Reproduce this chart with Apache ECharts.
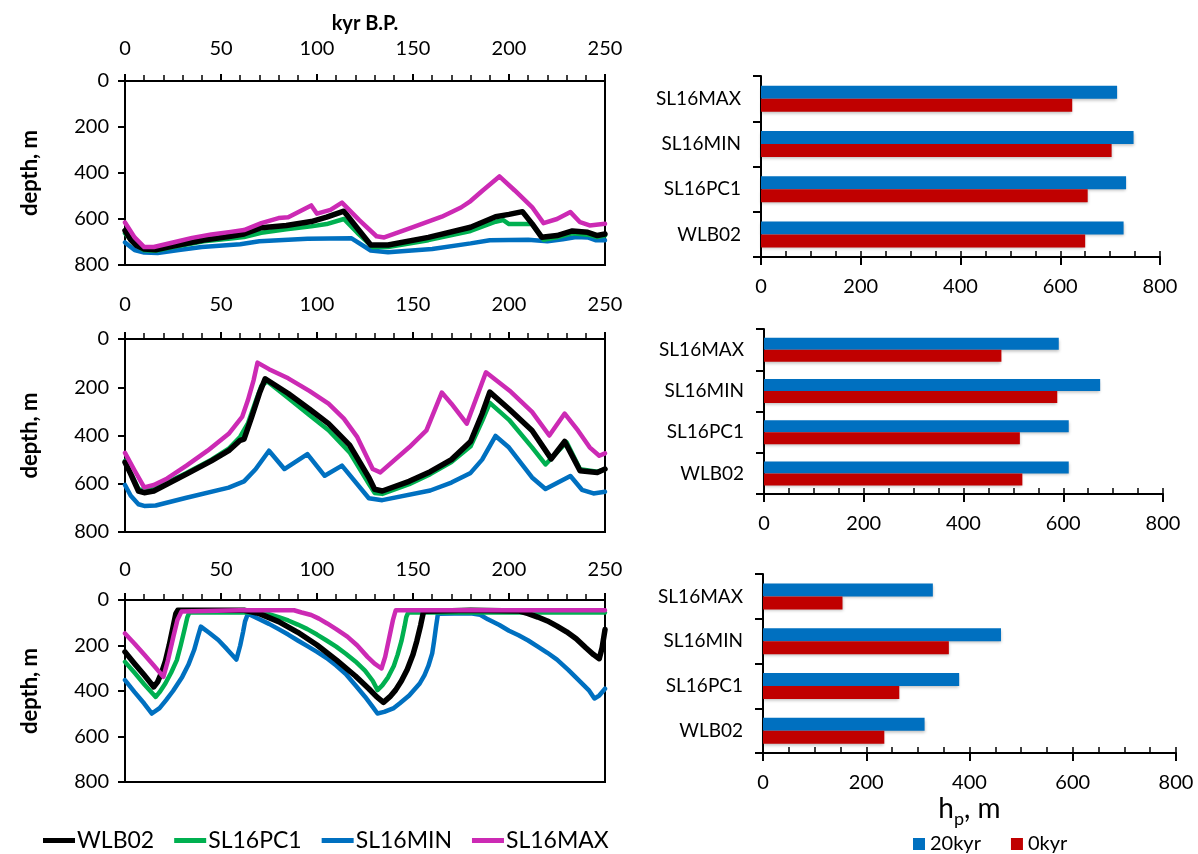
<!DOCTYPE html>
<html><head><meta charset="utf-8">
<script src="https://cdn.jsdelivr.net/npm/echarts@6/dist/echarts.min.js"></script>
<style>html,body{margin:0;padding:0;background:#fff}#c{width:1198px;height:854px}</style>
</head><body><div id="c"></div>
<script>
// ---------------- DATA ----------------
const seriesNames = ['WLB02', 'SL16PC1', 'SL16MIN', 'SL16MAX'];
const xTicks = [0, 50, 100, 150, 200, 250];
const depthTicks = [0, 200, 400, 600, 800];
const barCategories = ['WLB02', 'SL16PC1', 'SL16MIN', 'SL16MAX'];
const barSeriesNames = ['20kyr', '0kyr'];

// Panel 1 (top) : [kyr B.P., depth m]
const p1_WLB02 = [[0,650],[3,690],[6,715],[10,730],[16,734],[25,718],[41,691],[55,675],[62,665],[71,638],[84,628],[97,611],[105,592],[114,566],[121,640],[128,713],[137,713],[158,680],[180,636],[193,590],[200,580],[207,568],[212,620],[217,679],[225,672],[233,652],[241,658],[246,672],[250,665]];
const p1_SL16PC1 = [[0,662],[5,710],[10,736],[16,738],[25,722],[41,697],[55,685],[62,678],[71,660],[84,645],[97,632],[105,622],[114,600],[121,660],[129,722],[137,722],[158,692],[180,652],[193,612],[197,605],[200,622],[212,622],[218,690],[225,680],[233,662],[241,668],[246,678],[250,672]];
const p1_SL16MIN = [[0,702],[5,735],[10,746],[17,748],[28,735],[40,722],[60,710],[70,697],[80,692],[95,686],[118,684],[128,737],[137,745],[160,730],[180,706],[190,692],[210,690],[220,697],[228,688],[235,678],[241,680],[245,692],[250,692]];
const p1_SL16MAX = [[0,615],[5,680],[10,722],[15,722],[25,702],[35,682],[45,667],[55,656],[62,648],[71,618],[80,596],[85,592],[97,541],[100,577],[107,560],[113,529],[122,605],[131,675],[135,680],[150,635],[165,590],[175,550],[180,522],[186,478],[195,415],[203,476],[212,548],[218,618],[225,600],[232,570],[237,614],[242,628],[250,621]];

// Panel 2 (middle)
const p2_WLB02 = [[0,511],[3,560],[7,630],[10,637],[15,630],[32,560],[45,505],[54,463],[60,420],[62,415],[66,323],[70,225],[73,165],[85,226],[96,290],[106,351],[117,440],[127,574],[130,623],[134,630],[148,590],[159,550],[170,500],[180,425],[186,310],[190,220],[200,290],[212,379],[222,497],[229,425],[237,546],[246,553],[250,539]];
const p2_SL16PC1 = [[0,505],[3,555],[7,622],[10,628],[15,622],[32,555],[45,500],[54,455],[60,405],[64,350],[68,260],[71,195],[74,175],[85,245],[96,315],[106,378],[117,470],[127,600],[130,638],[134,642],[148,602],[159,560],[170,510],[180,445],[186,340],[190,265],[200,335],[212,449],[219,520],[230,428],[237,540],[246,550],[250,540]];
const p2_SL16MIN = [[0,605],[3,650],[7,685],[10,692],[16,690],[32,658],[54,616],[62,590],[68,540],[75,463],[83,539],[95,477],[104,567],[113,525],[127,660],[134,668],[159,628],[170,595],[180,555],[186,500],[193,402],[200,450],[212,574],[219,622],[232,568],[238,625],[244,640],[250,633]];
const p2_SL16MAX = [[0,472],[5,545],[10,615],[15,605],[22,578],[32,525],[43,463],[54,393],[61,323],[64,254],[67,170],[69,98],[75,125],[85,163],[96,215],[106,268],[114,330],[121,407],[129,539],[133,553],[148,449],[157,379],[165,222],[170,268],[178,351],[188,138],[201,219],[212,302],[221,400],[229,309],[236,380],[242,449],[247,484],[250,474]];

// Panel 3 (bottom)
const p3_WLB02 = [[0,228],[5,280],[10,330],[15,382],[17,360],[19,320],[21,270],[23,200],[25,120],[26.5,60],[27.5,45],[45,45],[62,45],[70,60],[80,95],[90,142],[100,198],[110,263],[120,334],[127,390],[131,425],[134.6,450],[138,425],[141,395],[144,355],[147,305],[150,240],[152,180],[154,110],[155.5,50],[156,45],[180,45],[205,48],[210,60],[215,75],[220,92],[225,115],[230,140],[235,170],[240,210],[244,240],[247,258],[248.5,210],[250,130]];
const p3_SL16PC1 = [[0,272],[5,320],[10,370],[16,426],[18,405],[21,367],[24,320],[27,264],[29,200],[31,130],[32.5,75],[33.5,55],[50,55],[70,55],[75,62],[80,75],[85,90],[90,108],[95,128],[100,152],[105,178],[110,205],[115,236],[120,270],[125,310],[129,355],[131.5,396],[134,375],[137,340],[140,290],[142,240],[144,180],[145.5,120],[146.5,75],[147.5,55],[200,55],[250,55]];
const p3_SL16MIN = [[0,352],[5,405],[10,455],[14,499],[18,475],[21.4,440],[25,400],[29.8,338],[33,285],[36,220],[38,160],[39.5,117],[44,145],[48.6,176],[53,215],[58,262],[60,200],[61.5,140],[62.5,95],[64,60],[70,85],[75,105],[80,128],[85,152],[90,178],[95,203],[100,228],[105,255],[110,288],[115,325],[120,375],[125,425],[129,470],[131.5,499],[135,492],[140,475],[143,455],[148,420],[153.5,367],[156,330],[158,290],[160,235],[161,180],[162,117],[163,60],[180,58],[185,65],[189,85],[195,110],[200,135],[205,155],[210,178],[215,205],[220,232],[225,262],[231,308],[236,350],[241.5,396],[244.5,433],[247,420],[250,390]];
const p3_SL16MAX = [[0,147],[5,192],[10,240],[15,288],[20,338],[22.4,264],[25.2,161],[27.3,88],[29.4,51],[30,45],[60,45],[88,45],[92,55],[97,66],[101,82],[105.3,103],[110,128],[115.8,161],[121,200],[126.3,250],[130,280],[133.6,301],[135.5,250],[137.5,170],[139.5,90],[141,45],[200,45],[250,45]];

// Bars: h_p, m (order = barCategories, bottom to top)
const bar1_20kyr = [727, 732, 747, 714];
const bar1_0kyr  = [650, 655, 703, 624];
const bar2_20kyr = [611, 611, 674, 591];
const bar2_0kyr  = [518, 513, 588, 476];
const bar3_20kyr = [313, 380, 461, 329];
const bar3_0kyr  = [235, 264, 360, 154];

// ---------------- STYLE ----------------
const FONT = 'Lato';
const lineColor = { WLB02: '#000000', SL16PC1: '#00B050', SL16MIN: '#0070C0', SL16MAX: '#CC2AB4' };
const lineZ = { WLB02: 4, SL16PC1: 3, SL16MIN: 2, SL16MAX: 5 };
const lineW = { WLB02: 5.5, SL16PC1: 4.5, SL16MIN: 4.5, SL16MAX: 4.5 };
const barColor = { '20kyr': '#0070C0', '0kyr': '#C00000' };

const panels = [
  { WLB02: p1_WLB02, SL16PC1: p1_SL16PC1, SL16MIN: p1_SL16MIN, SL16MAX: p1_SL16MAX },
  { WLB02: p2_WLB02, SL16PC1: p2_SL16PC1, SL16MIN: p2_SL16MIN, SL16MAX: p2_SL16MAX },
  { WLB02: p3_WLB02, SL16PC1: p3_SL16PC1, SL16MIN: p3_SL16MIN, SL16MAX: p3_SL16MAX }
];
const bars = [
  { '20kyr': bar1_20kyr, '0kyr': bar1_0kyr },
  { '20kyr': bar2_20kyr, '0kyr': bar2_0kyr },
  { '20kyr': bar3_20kyr, '0kyr': bar3_0kyr }
];

const leftGrids = [
  { left: 125, top: 81, width: 480, height: 184 },
  { left: 125, top: 339, width: 480, height: 193 },
  { left: 125, top: 600, width: 480, height: 182 }
];
const rightGrids = [
  { left: 761, top: 76, width: 399, height: 181 },
  { left: 764, top: 329, width: 399, height: 165 },
  { left: 763, top: 574, width: 413, height: 179 }
];

const grid = [], xAxis = [], yAxis = [], series = [];
const axisLine = { show: true, onZero: false, lineStyle: { color: '#000', width: 2 } };

leftGrids.forEach((g, i) => {
  grid.push(Object.assign({ show: true, borderColor: '#000', borderWidth: 2, containLabel: false }, g));
  xAxis.push({
    type: 'value', gridIndex: i, position: 'top', min: xTicks[0], max: xTicks[xTicks.length - 1], interval: xTicks[1] - xTicks[0],
    axisLine: axisLine, axisTick: { show: true, length: 7, lineStyle: { color: '#000', width: 2 } },
    minorTick: { show: true, splitNumber: 5, length: 6, lineStyle: { color: '#000', width: 1.5 } },
    splitLine: { show: false },
    axisLabel: { color: '#000', fontSize: 20, fontFamily: FONT, margin: [22, 24, 20][i] },
    name: i === 0 ? 'kyr B.P.' : '', nameLocation: 'middle', nameGap: 47,
    nameTextStyle: { color: '#000', fontSize: 20, fontWeight: 'bold', fontFamily: FONT }
  });
  yAxis.push({
    type: 'value', gridIndex: i, inverse: true, min: depthTicks[0], max: depthTicks[depthTicks.length - 1], interval: depthTicks[1] - depthTicks[0],
    axisLine: axisLine, axisTick: { show: true, length: 7, lineStyle: { color: '#000', width: 2 } },
    splitLine: { show: false },
    axisLabel: { color: '#000', fontSize: 20, fontFamily: FONT, margin: 16 },
    name: 'depth, m', nameLocation: 'middle', nameRotate: 90, nameGap: 84,
    nameTextStyle: { color: '#000', fontSize: 22, fontWeight: 'bold', fontFamily: FONT }
  });
  seriesNames.forEach(n => {
    series.push({
      type: 'line', name: n, xAxisIndex: i, yAxisIndex: i, data: panels[i][n],
      symbol: 'none', showSymbol: false, z: lineZ[n],
      lineStyle: { color: lineColor[n], width: lineW[n], join: 'round', cap: 'round' },
      itemStyle: { color: lineColor[n] }, animation: false
    });
  });
});

rightGrids.forEach((g, j) => {
  const gi = 3 + j;
  grid.push(Object.assign({ show: false, containLabel: false }, g));
  xAxis.push({
    type: 'value', gridIndex: gi, position: 'bottom', min: 0, max: 800, interval: 200,
    axisLine: axisLine, axisTick: { show: true, length: 8, lineStyle: { color: '#000', width: 2 } },
    splitLine: { show: false },
    axisLabel: { color: '#000', fontSize: 20, fontFamily: FONT, margin: 20 },
    name: j === 2 ? '{h|h}{s|p}{h|, m}' : '', nameLocation: 'middle', nameGap: 36,
    nameTextStyle: {
      color: '#000', fontFamily: FONT,
      rich: {
        h: { fontSize: 28, fontFamily: FONT, color: '#000', lineHeight: 34, verticalAlign: 'bottom' },
        s: { fontSize: 18, fontFamily: FONT, color: '#000', lineHeight: 34, verticalAlign: 'bottom', padding: [0, 0, -5, 0] }
      }
    }
  });
  yAxis.push({
    type: 'category', gridIndex: gi, data: barCategories,
    axisLine: axisLine, axisTick: { show: true, length: 8, lineStyle: { color: '#000', width: 2 } },
    axisLabel: { color: '#000', fontSize: 19, fontFamily: FONT, margin: 20 },
    splitLine: { show: false }
  });
});
rightGrids.forEach((g, j) => {
  xAxis.push({
    type: 'value', gridIndex: 3 + j, position: 'bottom', min: 0, max: 800, interval: 50,
    axisLine: { show: false, onZero: false }, axisTick: { show: true, inside: true, length: 6, lineStyle: { color: '#000', width: 1.5 } },
    axisLabel: { show: false }, splitLine: { show: false }
  });
});

const barOrder = ['20kyr', '0kyr'];
rightGrids.forEach((g, j) => {
  barOrder.forEach(n => {
    series.push({
      type: 'bar', name: n, xAxisIndex: 3 + j, yAxisIndex: 3 + j, data: bars[j][n],
      barWidth: j === 1 ? 12 : 13, barGap: '0%',
      itemStyle: { color: barColor[n], shadowColor: 'rgba(0,0,0,0.25)', shadowBlur: 3, shadowOffsetY: 2 },
      animation: false
    });
  });
});

const option = {
  backgroundColor: '#fff',
  animation: false,
  grid, xAxis, yAxis, series,
  legend: [
    {
      data: seriesNames, left: 38, top: 824, icon: 'rect', itemWidth: 32, itemHeight: 5, itemGap: 20,
      textStyle: { color: '#000', fontSize: 23, fontFamily: FONT, padding: [0, 0, 0, -3] }
    },
    {
      data: barSeriesNames, left: 908, top: 829, icon: 'rect', itemWidth: 12, itemHeight: 12, itemGap: 30,
      textStyle: { color: '#000', fontSize: 20, fontFamily: FONT }
    }
  ]
};

const chart = echarts.init(document.getElementById('c'), null, { renderer: 'canvas' });
chart.setOption(option);
</script>
</body></html>
